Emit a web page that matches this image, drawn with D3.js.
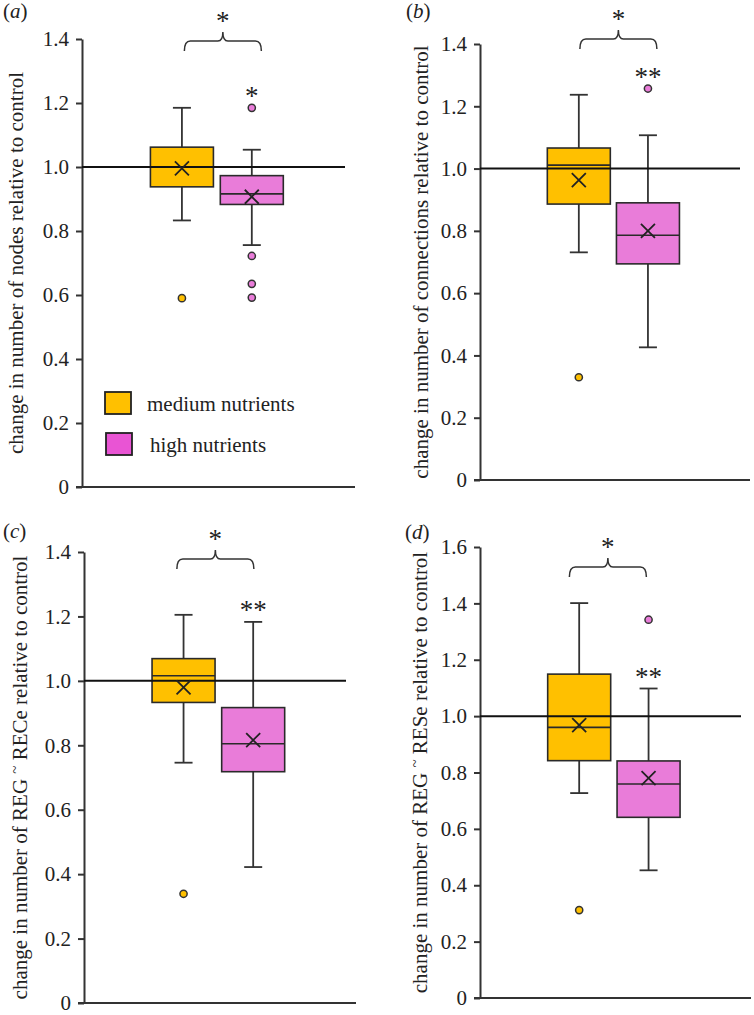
<!DOCTYPE html>
<html>
<head>
<meta charset="utf-8">
<script src="https://cdn.jsdelivr.net/npm/d3@7"></script>
<style>
body { margin: 0; background: #fff; }
text { font-family: "Liberation Serif", "Times New Roman", serif; fill: #222; }
</style>
</head>
<body>
<div id="chart"></div>
<script>
// values
const groups = ["medium nutrients", "high nutrients"];
const panelTags = ["a", "b", "c", "d"];
const yTitles = [
    ["change in number of nodes relative to control"],
    ["change in number of connections relative to control"],
    ["change in number of REG ", "~", " RECe relative to control"],
    ["change in number of REG ", "~", " RESe relative to control"]
];
const yTicks = [
    [0, 0.2, 0.4, 0.6, 0.8, 1.0, 1.2, 1.4],
    [0, 0.2, 0.4, 0.6, 0.8, 1.0, 1.2, 1.4],
    [0, 0.2, 0.4, 0.6, 0.8, 1.0, 1.2, 1.4],
    [0, 0.2, 0.4, 0.6, 0.8, 1.0, 1.2, 1.4, 1.6]
];
const whiskerLow  = [[0.833, 0.756], [0.731, 0.426], [0.746, 0.422], [0.727, 0.453]];
const quartile1   = [[0.938, 0.883], [0.886, 0.694], [0.933, 0.718], [0.842, 0.641]];
const medians     = [[1.0, 0.916], [1.011, 0.786], [1.016, 0.805], [0.96, 0.759]];
const quartile3   = [[1.062, 0.973], [1.066, 0.89], [1.069, 0.917], [1.149, 0.841]];
const whiskerHigh = [[1.185, 1.054], [1.237, 1.107], [1.205, 1.183], [1.401, 1.098]];
const means       = [[0.996, 0.907], [0.963, 0.80], [0.98, 0.816], [0.968, 0.78]];
const outliers = [
    [[0.59], [1.185, 0.722, 0.635, 0.592]],
    [[0.33], [1.257]],
    [[0.339], []],
    [[0.312], [1.342]]
];
const pairStars = ["*", "*", "*", "*"];
const highStars = ["*", "**", "**", "**"];
const highStarAt = [1.185, 1.257, 1.183, 1.098];
const refValue = 1.0;

const boxColours = ["#FFC000", "#E97CD9"];
const legendColours = ["#FFC000", "#E954D4"];

var width = 754, height = 1015;
var svg = d3.select("#chart").append("svg").attr("width", width).attr("height", height);

// panel frames (pixels)
const panels = [
    { left: 82, right: 355, top: 39, bottom: 487, tagX: 3, tagY: 18, titleX: 23, brDy: 2, brDx: 6 },
    { left: 480, right: 750, top: 44, bottom: 480, tagX: 406, tagY: 18, titleX: 428, brDy: -5, brDx: 5 },
    { left: 84, right: 356, top: 552, bottom: 1003, tagX: 3, tagY: 538, titleX: 27, brDy: 7, brDx: -3 },
    { left: 480, right: 751, top: 547, bottom: 998, tagX: 405, tagY: 539, titleX: 427, brDy: 20, brDx: -6 }
];

const boxW = 63, capW = 9, crossR = 7;

panels.forEach((p, k) => {
    let g = svg.append("g");
    let w = p.right - p.left;
    let ticks = yTicks[k];

    let y = d3.scaleLinear().domain([0, d3.max(ticks)]).range([p.bottom, p.top]);
    let x = d3.scalePoint().domain(groups).range([p.left + 0.366 * w, p.left + 0.622 * w]);

    // y axis
    let yAxis = d3.axisLeft(y).tickValues(ticks).tickSize(6).tickSizeOuter(0).tickPadding(7)
        .tickFormat(d => d === 0 ? "0" : d3.format(".1f")(d));
    let ax = g.append("g").attr("transform", `translate(${p.left},0)`).call(yAxis);
    ax.select(".domain").attr("stroke", "#333").attr("stroke-width", 2);
    ax.selectAll(".tick line").attr("stroke", "#333").attr("stroke-width", 2);
    ax.selectAll(".tick text").attr("font-size", 21).attr("fill", "#222")
        .style("font-family", "'Liberation Serif', serif");

    // x axis baseline
    g.append("line").attr("x1", p.left - 6).attr("x2", p.right)
        .attr("y1", y(0)).attr("y2", y(0)).attr("stroke", "#333").attr("stroke-width", 2);

    // panel tag
    let tag = g.append("text").attr("x", p.tagX).attr("y", p.tagY).attr("font-size", 21);
    tag.append("tspan").text("(");
    tag.append("tspan").attr("font-style", "italic").text(panelTags[k]);
    tag.append("tspan").text(")");

    // y title
    let midY = (p.top + p.bottom) / 2;
    let title = g.append("text").attr("transform", `translate(${p.titleX},${midY}) rotate(-90)`)
        .attr("text-anchor", "middle").attr("font-size", 21).attr("xml:space", "preserve");
    let parts = yTitles[k];
    if (parts.length === 1) {
        title.text(parts[0]);
    } else {
        title.append("tspan").text(parts[0]);
        title.append("tspan").attr("font-size", 15).attr("dy", -7).text(parts[1]);
        title.append("tspan").attr("dy", 7).text(parts[2]);
    }

    groups.forEach((grp, i) => {
        let cx = x(grp);
        let bg = g.append("g");
        // whiskers
        bg.append("line").attr("x1", cx).attr("x2", cx).attr("y1", y(whiskerHigh[k][i])).attr("y2", y(quartile3[k][i]))
            .attr("stroke", "#333").attr("stroke-width", 1.8);
        bg.append("line").attr("x1", cx).attr("x2", cx).attr("y1", y(quartile1[k][i])).attr("y2", y(whiskerLow[k][i]))
            .attr("stroke", "#333").attr("stroke-width", 1.8);
        [whiskerHigh[k][i], whiskerLow[k][i]].forEach(v => {
            bg.append("line").attr("x1", cx - capW).attr("x2", cx + capW).attr("y1", y(v)).attr("y2", y(v))
                .attr("stroke", "#333").attr("stroke-width", 1.8);
        });
        // box
        bg.append("rect").attr("x", cx - boxW / 2).attr("width", boxW)
            .attr("y", y(quartile3[k][i])).attr("height", y(quartile1[k][i]) - y(quartile3[k][i]))
            .attr("fill", boxColours[i]).attr("stroke", "#2a2a2a").attr("stroke-width", 1.6);
        bg.append("line").attr("x1", cx - boxW / 2).attr("x2", cx + boxW / 2)
            .attr("y1", y(medians[k][i])).attr("y2", y(medians[k][i]))
            .attr("stroke", "#2a2a2a").attr("stroke-width", 1.6);
        // outliers
        bg.selectAll("circle").data(outliers[k][i]).enter().append("circle")
            .attr("cx", cx).attr("cy", d => y(d)).attr("r", 3.6)
            .attr("fill", boxColours[i]).attr("stroke", "#333").attr("stroke-width", 1.5);
    });

    // reference line at 1.0
    g.append("line").attr("x1", p.left).attr("x2", p.right - 10)
        .attr("y1", y(refValue)).attr("y2", y(refValue)).attr("stroke", "#111").attr("stroke-width", 2);

    // mean crosses
    groups.forEach((grp, i) => {
        let cx = x(grp), cy = y(means[k][i]);
        g.append("path").attr("d", `M${cx - crossR},${cy - crossR}L${cx + crossR},${cy + crossR}M${cx - crossR},${cy + crossR}L${cx + crossR},${cy - crossR}`)
            .attr("stroke", "#222").attr("stroke-width", 1.8).attr("fill", "none");
    });

    // star above high nutrients
    g.append("text").attr("x", x(groups[1])).attr("y", y(highStarAt[k]) - 16 + 13)
        .attr("text-anchor", "middle").attr("font-size", 27).text(highStars[k]);

    // bracket between groups
    let mid = (x(groups[0]) + x(groups[1])) / 2 + p.brDx;
    let x1 = mid - 38.5, x2 = mid + 38.5, yb = p.top + p.brDy;
    g.append("path")
        .attr("d", `M${x1},${yb + 10}Q${x1},${yb} ${x1 + 6},${yb}L${mid - 5},${yb}Q${mid},${yb} ${mid},${yb - 9}Q${mid},${yb} ${mid + 5},${yb}L${x2 - 6},${yb}Q${x2},${yb} ${x2},${yb + 10}`)
        .attr("fill", "none").attr("stroke", "#333").attr("stroke-width", 1.5);
    g.append("text").attr("x", mid).attr("y", yb - 9 - 16 + 14)
        .attr("text-anchor", "middle").attr("font-size", 27).text(pairStars[k]);
});

// legend inside panel a
const lp = panels[0];
const legend = svg.append("g");
groups.forEach((grp, i) => {
    let ly = lp.bottom - 95 + i * 41;
    legend.append("rect").attr("x", lp.left + 23 + i).attr("y", ly).attr("width", 26).attr("height", 22)
        .attr("fill", legendColours[i]).attr("stroke", "#222").attr("stroke-width", 1.8);
    legend.append("text").attr("x", lp.left + 65 + i * 3).attr("y", ly + 19).attr("font-size", 21).text(grp);
});
</script>
</body>
</html>
